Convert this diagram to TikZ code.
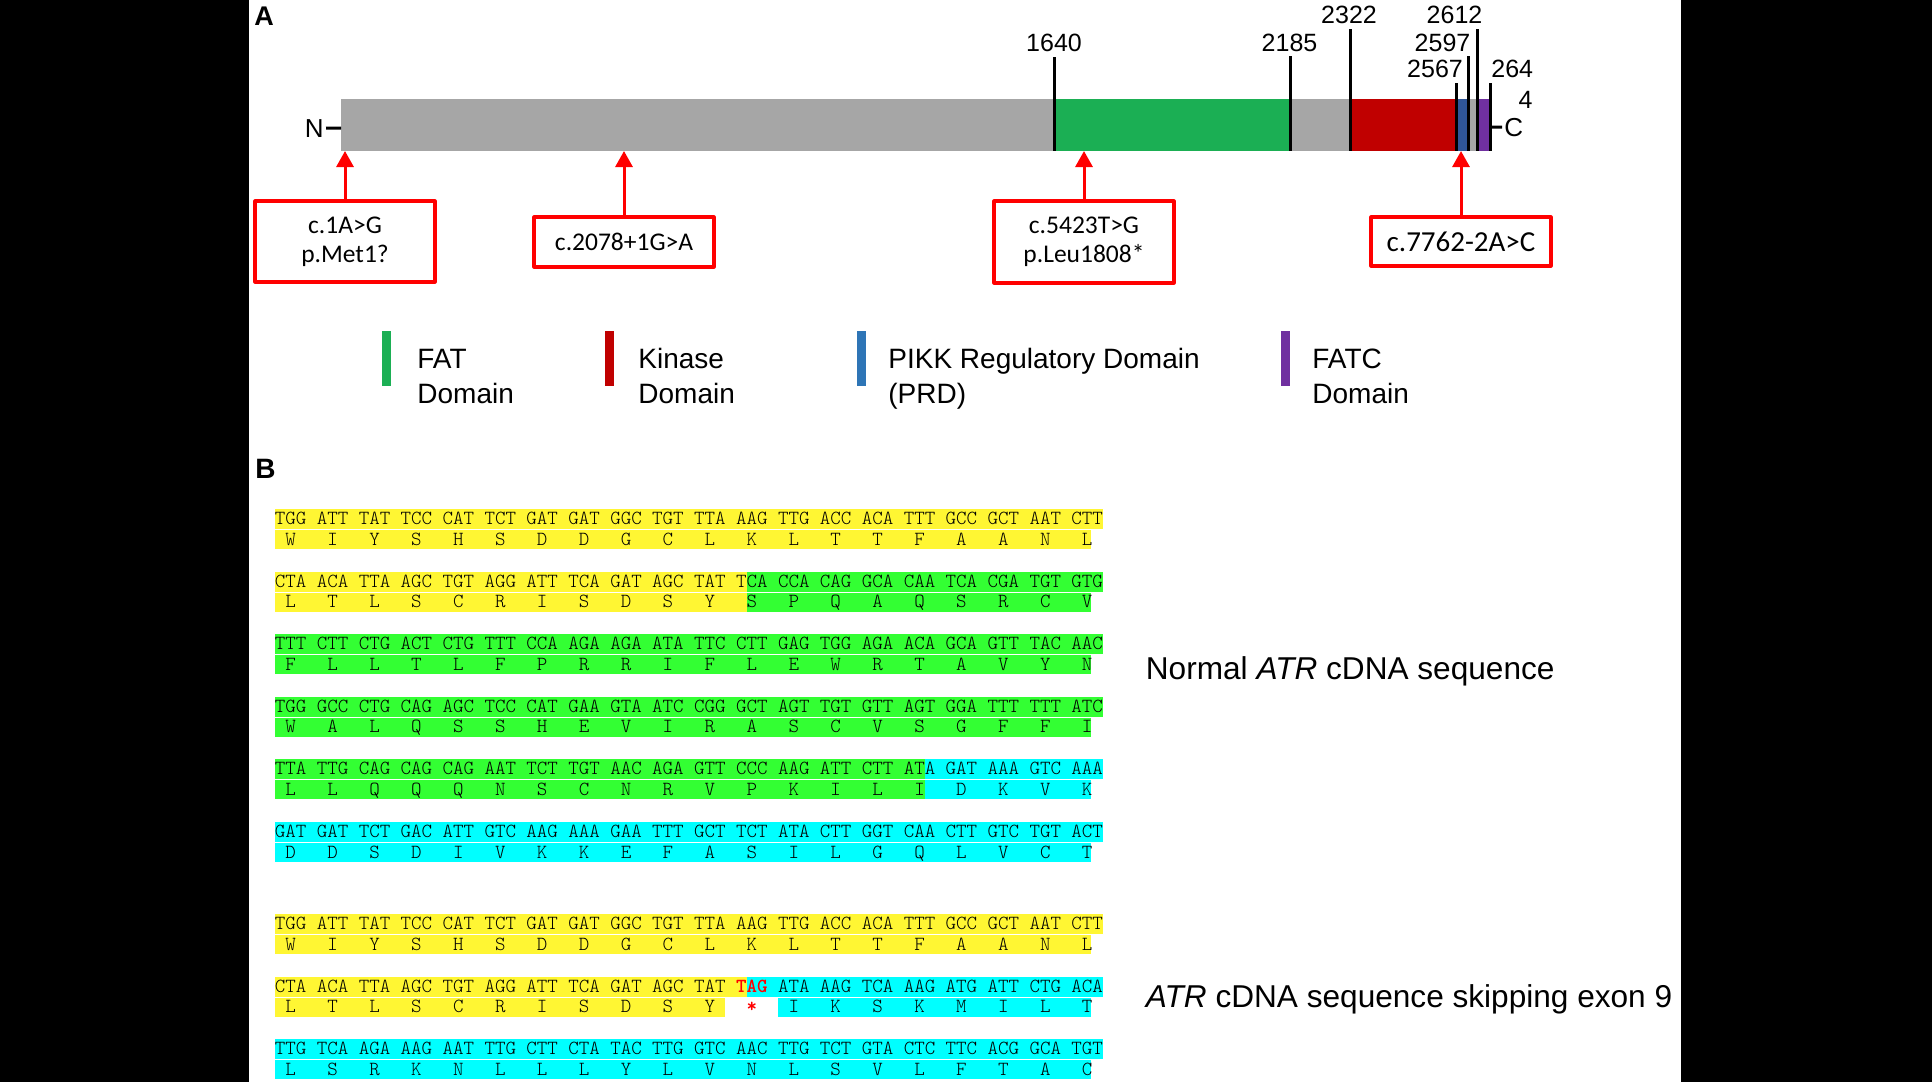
\documentclass[tikz,border=0pt]{standalone}
\usepackage{fontspec}
\setmainfont{Liberation Sans}
\newfontfamily\boxfont{Carlito}
\usetikzlibrary{arrows.meta}
\definecolor{bargray}{RGB}{166,166,166}
\definecolor{fatgreen}{RGB}{27,175,84}
\definecolor{kinred}{RGB}{192,0,0}
\definecolor{prdblue}{RGB}{47,85,151}
\definecolor{prdlegend}{RGB}{46,117,182}
\definecolor{fatcpurple}{RGB}{112,48,160}
\definecolor{seqyellow}{RGB}{255,246,51}
\definecolor{seqgreen}{RGB}{51,255,51}
\definecolor{seqcyan}{RGB}{0,255,255}
\begin{document}
\begin{tikzpicture}[x=0.5pt, y=-0.5pt, line join=round, >=stealth,
  numlabel/.style={font=\fontsize{12.5}{14}\selectfont, inner sep=0pt, anchor=base},
  panel/.style={font=\bfseries\fontsize{13.5}{16}\selectfont, inner sep=0pt, anchor=base west},
  domtick/.style={line width=1.5pt},
  mutbox/.style={draw=red, line width=1.6pt, minimum width=90pt, align=center, inner sep=0pt, font=\boxfont\fontsize{12.75}{14.5}\selectfont},
  mutarrow/.style={red, line width=1.5pt, -{Triangle[width=8.5pt,length=8pt]}},
  legend/.style={font=\fontsize{14}{17.5}\selectfont, align=left, inner sep=0pt, anchor=base west},
  seq/.style={font=\fontsize{10}{11}\fontfamily{lmtt}\fontseries{l}\selectfont, inner sep=0pt, anchor=base},
  note/.style={font=\fontsize{15.8}{18}\selectfont, inner sep=0pt, anchor=base west}]
	\useasboundingbox (0,0) rectangle (1932,1082);
	\fill[black] (0,0) rectangle (1932,1082);
	\fill[white] (249,0) rectangle (1681,1082);
	% panel A: ATR protein
	\node[panel] (panelA) at (254,25) {A};
	\fill[bargray] (341,99) rectangle (1491,151);
	\fill[fatgreen] (1054,99) rectangle (1290,151);
	\fill[kinred] (1350,99) rectangle (1456,151);
	\fill[prdblue] (1456,99) rectangle (1468,151);
	\fill[fatcpurple] (1477,99) rectangle (1491,151);
	\foreach \x/\t in {1054/57,1290/56,1350/29,1456/83,1468/56,1477/29,1490/83}
		\draw[domtick] (\x,\t) -- (\x,151);
	\node[numlabel] (p1640) at (1054,51) {1640};
	\node[numlabel] (p2185) at (1289.5,51) {2185};
	\node[numlabel] (p2322) at (1349,23) {2322};
	\node[numlabel] (p2612) at (1454.5,23) {2612};
	\node[numlabel] (p2597) at (1442.5,51) {2597};
	\node[numlabel] (p2567) at (1435,77) {2567};
	\node[numlabel, anchor=base west] (p264) at (1491,77) {264};
	\node[numlabel, anchor=base east] (p4) at (1533,108) {4};
	\node[numlabel, font=\fontsize{13}{15}\selectfont, inner sep=1pt, anchor=base east] (nterm) at (326,137) {N};
	\node[numlabel, font=\fontsize{13}{15}\selectfont, inner sep=1pt, anchor=base west] (cterm) at (1502,136) {C};
	\coordinate (barN) at (341,128);
	\coordinate (barC) at (1490,127);
	\draw[domtick] (nterm.east) -- (barN);
	\draw[domtick] (barC) -- (cterm.west);
	% variants
	\coordinate (t1) at (345,151);
	\coordinate (t2) at (624,151);
	\coordinate (t3) at (1084,151);
	\coordinate (t4) at (1461,151);
	\node[mutbox, minimum height=40.5pt] (b1) at (345,241.5) {c.1A>G\\p.Met1?};
	\node[mutbox, minimum height=25pt] (b2) at (624,242) {c.2078+1G>A};
	\node[mutbox, minimum height=41pt] (b3) at (1084,242) {c.5423T>G\\p.Leu1808*};
	\node[mutbox, minimum height=24.5pt, font=\boxfont\fontsize{14.5}{16}\selectfont] (b4) at (1461,241.5) {c.7762-2A>C};
	\draw[mutarrow] (b1.north) -- (t1);
	\draw[mutarrow] (b2.north) -- (t2);
	\draw[mutarrow] (b3.north) -- (t3);
	\draw[mutarrow] (b4.north) -- (t4);
	% legend
	\fill[fatgreen] (381.5,331) rectangle (390.5,386);
	\fill[kinred] (604.5,331) rectangle (613.5,386);
	\fill[prdlegend] (856.5,331) rectangle (865.5,386);
	\fill[fatcpurple] (1280.5,331) rectangle (1289.5,386);
	\node[legend] (lfat) at (417,403) {FAT\\Domain};
	\node[legend] (lkin) at (638,403) {Kinase\\Domain};
	\node[legend] (lprd) at (888,403) {PIKK Regulatory Domain\\(PRD)};
	\node[legend] (lfatc) at (1312,403) {FATC\\Domain};
	% panel B: cDNA
	\node[panel, font=\bfseries\fontsize{14}{16}\selectfont] (panelB) at (255,478) {B};
	\node[note] (normal) at (1145.5,679) {Normal \textit{ATR} cDNA sequence};
	\node[note] (skip) at (1145.5,1007) {\textit{ATR} cDNA sequence skipping exon 9};
	% normal sequence
	\fill[seqyellow] (275,509) rectangle (1103,529);
	\fill[seqyellow] (275,530) rectangle (1091,549);
	\foreach \c [count=\i from 0] in {TGG,ATT,TAT,TCC,CAT,TCT,GAT,GAT,GGC,TGT,TTA,AAG,TTG,ACC,ACA,TTT,GCC,GCT,AAT,CTT}
		\node[seq] (n1c\i) at (290.7+41.92*\i,524.5) {\c};
	\foreach \a [count=\i from 0] in {W,I,Y,S,H,S,D,D,G,C,L,K,L,T,T,F,A,A,N,L}
		\node[seq] (n1a\i) at (290.7+41.92*\i,545) {\a};
	\fill[seqyellow] (275,571.6) rectangle (746.6,591.6);
	\fill[seqgreen] (746.6,571.6) rectangle (1103,591.6);
	\fill[seqyellow] (275,592.6) rectangle (746.6,611.6);
	\fill[seqgreen] (746.6,592.6) rectangle (1091,611.6);
	\foreach \c [count=\i from 0] in {CTA,ACA,TTA,AGC,TGT,AGG,ATT,TCA,GAT,AGC,TAT,TCA,CCA,CAG,GCA,CAA,TCA,CGA,TGT,GTG}
		\node[seq] (n2c\i) at (290.7+41.92*\i,587.1) {\c};
	\foreach \a [count=\i from 0] in {L,T,L,S,C,R,I,S,D,S,Y,S,P,Q,A,Q,S,R,C,V}
		\node[seq] (n2a\i) at (290.7+41.92*\i,607.6) {\a};
	\fill[seqgreen] (275,634.2) rectangle (1103,654.2);
	\fill[seqgreen] (275,655.2) rectangle (1091,674.2);
	\foreach \c [count=\i from 0] in {TTT,CTT,CTG,ACT,CTG,TTT,CCA,AGA,AGA,ATA,TTC,CTT,GAG,TGG,AGA,ACA,GCA,GTT,TAC,AAC}
		\node[seq] (n3c\i) at (290.7+41.92*\i,649.7) {\c};
	\foreach \a [count=\i from 0] in {F,L,L,T,L,F,P,R,R,I,F,L,E,W,R,T,A,V,Y,N}
		\node[seq] (n3a\i) at (290.7+41.92*\i,670.2) {\a};
	\fill[seqgreen] (275,696.8) rectangle (1103,716.8);
	\fill[seqgreen] (275,717.8) rectangle (1091,736.8);
	\foreach \c [count=\i from 0] in {TGG,GCC,CTG,CAG,AGC,TCC,CAT,GAA,GTA,ATC,CGG,GCT,AGT,TGT,GTT,AGT,GGA,TTT,TTT,ATC}
		\node[seq] (n4c\i) at (290.7+41.92*\i,712.3) {\c};
	\foreach \a [count=\i from 0] in {W,A,L,Q,S,S,H,E,V,I,R,A,S,C,V,S,G,F,F,I}
		\node[seq] (n4a\i) at (290.7+41.92*\i,732.8) {\a};
	\fill[seqgreen] (275,759.4) rectangle (924.8,779.4);
	\fill[seqcyan] (924.8,759.4) rectangle (1103,779.4);
	\fill[seqgreen] (275,780.4) rectangle (924.8,799.4);
	\fill[seqcyan] (924.8,780.4) rectangle (1091,799.4);
	\foreach \c [count=\i from 0] in {TTA,TTG,CAG,CAG,CAG,AAT,TCT,TGT,AAC,AGA,GTT,CCC,AAG,ATT,CTT,ATA,GAT,AAA,GTC,AAA}
		\node[seq] (n5c\i) at (290.7+41.92*\i,774.9) {\c};
	\foreach \a [count=\i from 0] in {L,L,Q,Q,Q,N,S,C,N,R,V,P,K,I,L,I,D,K,V,K}
		\node[seq] (n5a\i) at (290.7+41.92*\i,795.4) {\a};
	\fill[seqcyan] (275,822) rectangle (1103,842);
	\fill[seqcyan] (275,843) rectangle (1091,862);
	\foreach \c [count=\i from 0] in {GAT,GAT,TCT,GAC,ATT,GTC,AAG,AAA,GAA,TTT,GCT,TCT,ATA,CTT,GGT,CAA,CTT,GTC,TGT,ACT}
		\node[seq] (n6c\i) at (290.7+41.92*\i,837.5) {\c};
	\foreach \a [count=\i from 0] in {D,D,S,D,I,V,K,K,E,F,A,S,I,L,G,Q,L,V,C,T}
		\node[seq] (n6a\i) at (290.7+41.92*\i,858) {\a};
	% sequence skipping exon 9
	\fill[seqyellow] (275,914) rectangle (1103,934);
	\fill[seqyellow] (275,935) rectangle (1091,954);
	\foreach \c [count=\i from 0] in {TGG,ATT,TAT,TCC,CAT,TCT,GAT,GAT,GGC,TGT,TTA,AAG,TTG,ACC,ACA,TTT,GCC,GCT,AAT,CTT}
		\node[seq] (s1c\i) at (290.7+41.92*\i,929.5) {\c};
	\foreach \a [count=\i from 0] in {W,I,Y,S,H,S,D,D,G,C,L,K,L,T,T,F,A,A,N,L}
		\node[seq] (s1a\i) at (290.7+41.92*\i,950) {\a};
	\fill[seqyellow] (275,976.6) rectangle (746.6,996.6);
	\fill[seqcyan] (746.6,976.6) rectangle (1103,996.6);
	\fill[seqyellow] (275,997.6) rectangle (725,1016.6);
	\fill[seqcyan] (778,997.6) rectangle (1091,1016.6);
	\foreach \c [count=\i from 0] in {CTA,ACA,TTA,AGC,TGT,AGG,ATT,TCA,GAT,AGC,TAT,{\color{red}\bfseries TAG},ATA,AAG,TCA,AAG,ATG,ATT,CTG,ACA}
		\node[seq] (s2c\i) at (290.7+41.92*\i,992.1) {\c};
	\foreach \a [count=\i from 0] in {L,T,L,S,C,R,I,S,D,S,Y,{\color{red}\bfseries *},I,K,S,K,M,I,L,T}
		\node[seq] (s2a\i) at (290.7+41.92*\i,1012.6) {\a};
	\fill[seqcyan] (275,1039.2) rectangle (1103,1059.2);
	\fill[seqcyan] (275,1060.2) rectangle (1091,1079.2);
	\foreach \c [count=\i from 0] in {TTG,TCA,AGA,AAG,AAT,TTG,CTT,CTA,TAC,TTG,GTC,AAC,TTG,TCT,GTA,CTC,TTC,ACG,GCA,TGT}
		\node[seq] (s3c\i) at (290.7+41.92*\i,1054.7) {\c};
	\foreach \a [count=\i from 0] in {L,S,R,K,N,L,L,L,Y,L,V,N,L,S,V,L,F,T,A,C}
		\node[seq] (s3a\i) at (290.7+41.92*\i,1075.2) {\a};
\end{tikzpicture}
\end{document}
